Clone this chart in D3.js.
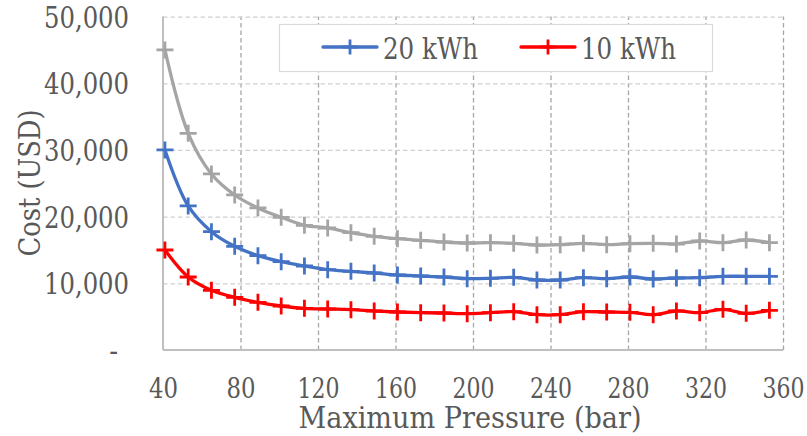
<!DOCTYPE html>
<html>
<head>
<meta charset="utf-8">
<script src="https://cdn.jsdelivr.net/npm/d3@7"></script>
<style>
  html, body { margin: 0; padding: 0; background: #fff; }
  svg { display: block; }
  text { font-family: "DejaVu Serif Condensed", "DejaVu Serif", serif; fill: #595959; }
</style>
</head>
<body>
<svg id="chart" width="807" height="436"></svg>
<script>
// Maximum pressure (bar) for each computed point
const pressure = [41, 53, 65, 77, 89, 101, 113, 125, 137, 149, 161, 173, 185, 197,
                  209, 221, 233, 245, 257, 269, 281, 293, 305, 317, 329, 341, 353];

// Cost (USD) per storage size
const cost30 = [45000, 32500, 26400, 23250, 21300, 19900, 18700, 18300, 17600, 17050, 16700, 16450, 16200, 16050,
                16100, 16000, 15750, 15800, 16000, 15800, 15950, 16000, 15900, 16350, 16100, 16500, 16100];
const cost20 = [30000, 21600, 17750, 15550, 14150, 13250, 12600, 12050, 11800, 11550, 11250, 11100, 10950, 10700,
                10750, 10900, 10500, 10500, 10850, 10700, 10950, 10650, 10800, 10850, 11050, 11050, 11050];
const cost10 = [15000, 10950, 8950, 7900, 7150, 6600, 6250, 6150, 6050, 5850, 5700, 5600, 5550, 5450,
                5600, 5750, 5300, 5300, 5750, 5700, 5650, 5300, 5850, 5600, 6100, 5500, 5950];

const xTicks = [40, 80, 120, 160, 200, 240, 280, 320, 360];
const yTicks = [0, 10000, 20000, 30000, 40000, 50000];

const seriesNames = ["30 kWh", "20 kWh", "10 kWh"];
const seriesColors = ["#a5a5a5", "#4472c4", "#ff0000"];
const legendNames = ["20 kWh", "10 kWh"];
const legendColors = ["#4472c4", "#ff0000"];

const xTitle = "Maximum Pressure (bar)";
const yTitle = "Cost (USD)";

const svg = d3.select("#chart");
const FS = 29;

const x = d3.scaleLinear().domain([40, 360]).range([163, 783]);
const y = d3.scaleLinear().domain([0, 50000]).range([350, 16.6]);

// Grid lines
const gridX = svg.append("g")
  .attr("transform", `translate(0,${y(0)})`)
  .call(d3.axisBottom(x).tickValues(xTicks.slice(1)).tickSize(-(y(0) - y(50000))).tickFormat(""));
gridX.select(".domain").remove();
gridX.selectAll("line").attr("stroke", "#a6a6a6").attr("stroke-width", 1.3).attr("stroke-dasharray", "4.5,3");

const gridY = svg.append("g")
  .attr("transform", `translate(${x(40)},0)`)
  .call(d3.axisLeft(y).tickValues(yTicks.slice(1)).tickSize(-(x(360) - x(40))).tickFormat(""));
gridY.select(".domain").remove();
gridY.selectAll("line").attr("stroke", "#cfcfcf").attr("stroke-width", 1.3).attr("stroke-dasharray", "4.5,3");

// Axis lines
svg.append("line").attr("x1", x(40)).attr("x2", x(360)).attr("y1", y(0)).attr("y2", y(0))
  .attr("stroke", "#bfbfbf").attr("stroke-width", 2);
svg.append("line").attr("x1", x(40)).attr("x2", x(40)).attr("y1", y(0)).attr("y2", y(50000))
  .attr("stroke", "#bfbfbf").attr("stroke-width", 2);

// Tick labels
const fmt = d3.format(",");
const yAxis = svg.append("g")
  .attr("transform", `translate(${x(40)},0)`)
  .call(d3.axisLeft(y).tickValues(yTicks).tickSize(0).tickPadding(34)
    .tickFormat(d => d === 0 ? "-" : fmt(d)));
yAxis.select(".domain").remove();
yAxis.selectAll("text")
  .style("font-size", FS + "px").attr("fill", "#595959").attr("dy", "0.36em")
  .attr("x", d => d === 0 ? -45 : -34)
  .attr("textLength", d => d === 0 ? null : 85).attr("lengthAdjust", "spacingAndGlyphs");

const xAxis = svg.append("g")
  .attr("transform", `translate(0,${y(0)})`)
  .call(d3.axisBottom(x).tickValues(xTicks).tickSize(0).tickPadding(0));
xAxis.select(".domain").remove();
xAxis.selectAll("text")
  .style("font-size", "28px").attr("fill", "#595959").attr("y", 48).attr("dy", 0)
  .attr("textLength", d => d < 100 ? 29 : 42).attr("lengthAdjust", "spacingAndGlyphs");

// Axis titles
svg.append("text").attr("x", 470).attr("y", 428).attr("text-anchor", "middle")
  .style("font-size", FS + "px").attr("textLength", 343).attr("lengthAdjust", "spacingAndGlyphs")
  .text(xTitle);
svg.append("text").attr("transform", "translate(40,183) rotate(-90)").attr("text-anchor", "middle")
  .style("font-size", FS + "px").attr("textLength", 147).attr("lengthAdjust", "spacingAndGlyphs")
  .text(yTitle);

// Series
const series = [cost30, cost20, cost10];
const line = d3.line().x((d, i) => x(pressure[i])).y(d => y(d)).curve(d3.curveCatmullRom.alpha(0.5));
const plus = (cx, cy, s) => `M${cx - s / 2},${cy}H${cx + s / 2}M${cx},${cy - s / 2}V${cy + s / 2}`;

series.forEach((vals, k) => {
  const g = svg.append("g").attr("class", "series").attr("data-name", seriesNames[k]);
  g.append("path").attr("d", line(vals)).attr("fill", "none")
    .attr("stroke", seriesColors[k]).attr("stroke-width", 3.3).attr("stroke-linejoin", "round");
  g.selectAll("path.marker").data(vals).join("path").attr("class", "marker")
    .attr("d", (d, i) => plus(x(pressure[i]), y(d), 17))
    .attr("stroke", seriesColors[k]).attr("stroke-width", 2.8).attr("fill", "none");
});

// Legend
const leg = svg.append("g");
leg.append("rect").attr("x", 279.5).attr("y", 24.5).attr("width", 433).attr("height", 47)
  .attr("fill", "#fff").attr("stroke", "#d9d9d9").attr("stroke-width", 1.2);
const legX = [323, 521];
const legTextW = [95, 95];
legendNames.forEach((name, k) => {
  const lx = legX[k];
  leg.append("line").attr("x1", lx).attr("x2", lx + 54).attr("y1", 47).attr("y2", 47)
    .attr("stroke", legendColors[k]).attr("stroke-width", 3.3).attr("stroke-linecap", "round");
  leg.append("path").attr("d", plus(lx + 27, 47, 15))
    .attr("stroke", legendColors[k]).attr("stroke-width", 2.8);
  leg.append("text").attr("x", lx + 60).attr("y", 59)
    .style("font-size", FS + "px").attr("textLength", legTextW[k]).attr("lengthAdjust", "spacingAndGlyphs")
    .text(name);
});
</script>
</body>
</html>
